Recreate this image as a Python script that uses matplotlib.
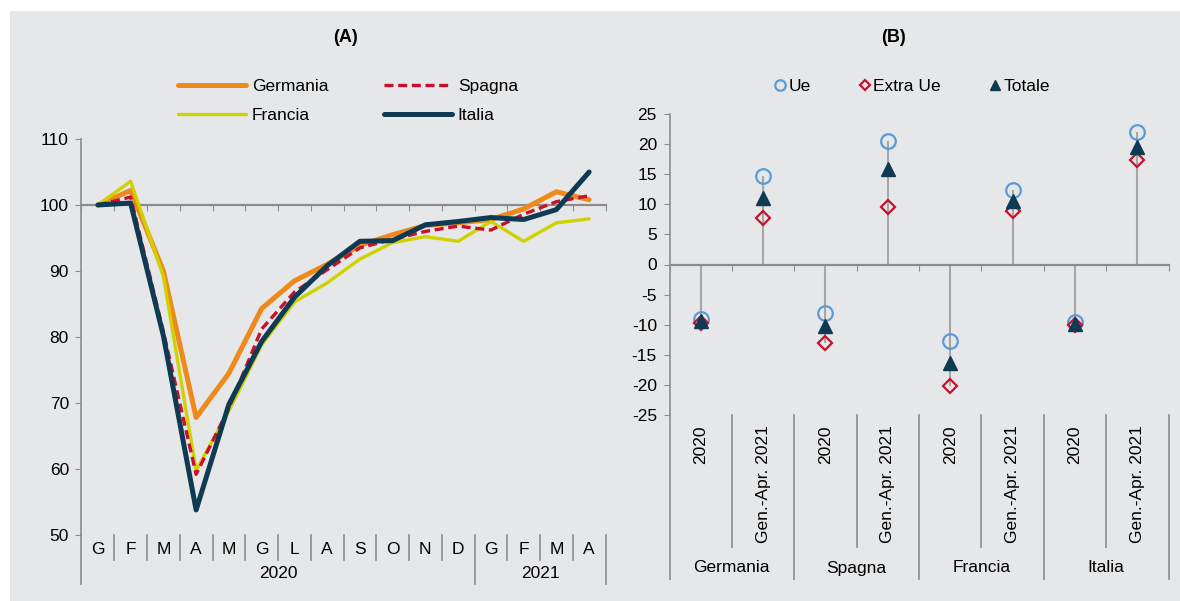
import numpy as np
import matplotlib.pyplot as plt
import matplotlib.transforms as mtransforms
from matplotlib.patches import Rectangle

plt.rcParams['font.family'] = ['Liberation Sans', 'DejaVu Sans']
plt.rcParams['font.size'] = 12.5
plt.rcParams['axes.unicode_minus'] = False

# --- dati pannello (A): indici mensili ---
mesi = ['G', 'F', 'M', 'A', 'M', 'G', 'L', 'A', 'S', 'O', 'N', 'D', 'G', 'F', 'M', 'A']
anni = ['2020', '2021']
germania = [100, 102.2, 90.0, 67.8, 74.5, 84.3, 88.5, 91.0, 93.9, 95.5, 96.9, 97.3, 97.8, 99.4, 102.0, 100.8]
spagna = [100, 101.2, 80.8, 59.2, 69.2, 81.2, 86.8, 90.2, 93.5, 94.8, 96.0, 96.8, 96.2, 98.6, 100.5, 101.4]
francia = [100, 103.6, 89.2, 59.8, 68.8, 78.8, 85.3, 88.2, 91.8, 94.3, 95.2, 94.5, 97.5, 94.5, 97.3, 97.9]
italia = [100, 100.3, 80.2, 53.8, 69.8, 79.3, 86.0, 90.8, 94.5, 94.6, 97.0, 97.5, 98.1, 97.8, 99.3, 105.0]

# --- dati pannello (B): variazioni percentuali ---
paesi = ['Germania', 'Spagna', 'Francia', 'Italia']
periodi = ['2020', 'Gen.-Apr. 2021']
ue = [-9.0, 14.7, -8.0, 20.5, -12.7, 12.3, -9.5, 22.0]
extra_ue = [-9.7, 7.7, -13.0, 9.5, -20.2, 8.9, -10.0, 17.4]
totale = [-9.4, 11.1, -10.2, 15.9, -16.4, 10.6, -9.9, 19.6]

W, H = 1180, 601
BG = '#e6e7e9'
GRID = '#8c8c8c'
fig = plt.figure(figsize=(W / 100, H / 100), dpi=100, facecolor='white')
fig.patches.append(Rectangle((10 / W, 0), 1, 1 - 11 / H, transform=fig.transFigure,
                             facecolor=BG, edgecolor='none', zorder=-10))


def fx(px):
    return px / W


def fy(py):
    return 1 - py / H


def style_axes(ax, zero):
    ax.set_facecolor('none')
    for s in ['top', 'right']:
        ax.spines[s].set_visible(False)
    ax.spines['left'].set_color(GRID)
    ax.spines['bottom'].set_color(GRID)
    ax.spines['bottom'].set_position(('data', zero))
    ax.spines['left'].set_linewidth(1.2)
    ax.spines['bottom'].set_linewidth(1.6)
    ax.tick_params(axis='x', direction='out', length=4, color=GRID, labelbottom=False)
    ax.tick_params(axis='y', direction='out', length=4, color=GRID, pad=5)


# ---------------- Pannello (A) ----------------
axA = fig.add_axes([fx(81.5), fy(535), fx(605.5) - fx(81.5), (535 - 139) / H])
x = np.arange(len(mesi))
axA.plot(x, germania, color='#ee8a1c', lw=3.6, solid_capstyle='round', label='Germania', zorder=3)
axA.plot(x, francia, color='#cfd200', lw=2.4, solid_capstyle='round', label='Francia', zorder=4)
axA.plot(x, spagna, color='#c8102e', lw=2.4, dashes=(2.7, 1.4), label='Spagna', zorder=5)
axA.plot(x, italia, color='#0e3a53', lw=3.6, solid_capstyle='round', label='Italia', zorder=6)
axA.set_xlim(-0.5, len(mesi) - 0.5)
axA.set_ylim(50, 110)
axA.set_yticks(np.arange(50, 111, 10))
axA.set_xticks(np.arange(-0.5, len(mesi), 1))
style_axes(axA, 100)

tA = mtransforms.blended_transform_factory(axA.transData, fig.transFigure)
for i, m in enumerate(mesi):
    axA.text(i, fy(549), m, transform=tA, ha='center', va='center')
for b in np.arange(0.5, len(mesi) - 1, 1):
    if b == 11.5:
        continue
    axA.plot([b, b], [fy(535), fy(560)], transform=tA, color=GRID, lw=1.2, clip_on=False)
for b in [-0.5, 11.5, len(mesi) - 0.5]:
    axA.plot([b, b], [fy(535), fy(584)], transform=tA, color=GRID, lw=1.2, clip_on=False)
axA.text(5.5, fy(574), anni[0], transform=tA, ha='center', va='center')
axA.text(13.5, fy(574), anni[1], transform=tA, ha='center', va='center')

fig.legend(*axA.get_legend_handles_labels(), ncol=2, loc='center',
           bbox_to_anchor=(fx(348), fy(101)), frameon=False, handlelength=3.9,
           handletextpad=0.35, columnspacing=3.2, labelspacing=0.75, borderpad=0)
fig.text(fx(345), fy(38), '(A)', weight='bold', ha='center', va='center', fontsize=13)

# ---------------- Pannello (B) ----------------
axB = fig.add_axes([fx(669.5), fy(415), fx(1168.5) - fx(669.5), (415 - 114) / H])
xb = np.arange(len(ue))
alto = np.maximum.reduce([ue, extra_ue, totale, np.zeros(len(ue))])
basso = np.minimum.reduce([ue, extra_ue, totale, np.zeros(len(ue))])
axB.vlines(xb, basso, alto, color='#a6a6a6', lw=1.5, zorder=2)
axB.plot(xb, ue, ls='none', marker='o', ms=10.5, mfc='none', mec='#5b9bd5', mew=1.6, label='Ue', zorder=3)
axB.plot(xb, extra_ue, ls='none', marker='D', ms=7.5, mfc='none', mec='#c8102e', mew=1.6, label='Extra Ue', zorder=4)
axB.plot(xb, totale, ls='none', marker='^', ms=9.5, color='#0e3a53', label='Totale', zorder=5)
axB.set_xlim(-0.5, len(ue) - 0.5)
axB.set_ylim(-25, 25)
axB.set_yticks(np.arange(-25, 26, 5))
axB.set_xticks(np.arange(-0.5, len(ue), 1))
style_axes(axB, 0)

tB = mtransforms.blended_transform_factory(axB.transData, fig.transFigure)
for i in xb:
    axB.text(i, fy(425), periodi[i % 2], transform=tB, rotation=90, ha='center', va='top')
for b in np.arange(0.5, len(ue), 2):
    axB.plot([b, b], [fy(415), fy(547)], transform=tB, color=GRID, lw=1.2, clip_on=False)
for b in np.arange(-0.5, len(ue), 2):
    axB.plot([b, b], [fy(415), fy(579)], transform=tB, color=GRID, lw=1.2, clip_on=False)
for j, p in enumerate(paesi):
    axB.text(2 * j + 0.5, fy(568), p, transform=tB, ha='center', va='center')

fig.legend(*axB.get_legend_handles_labels(), ncol=3, loc='center',
           bbox_to_anchor=(fx(912), fy(86)), frameon=False, handlelength=0.7,
           handletextpad=0.1, columnspacing=2.8, borderpad=0, markerscale=0.72)
fig.text(fx(893), fy(38), '(B)', weight='bold', ha='center', va='center', fontsize=13)

fig.savefig('out.png', dpi=100, facecolor=fig.get_facecolor())
